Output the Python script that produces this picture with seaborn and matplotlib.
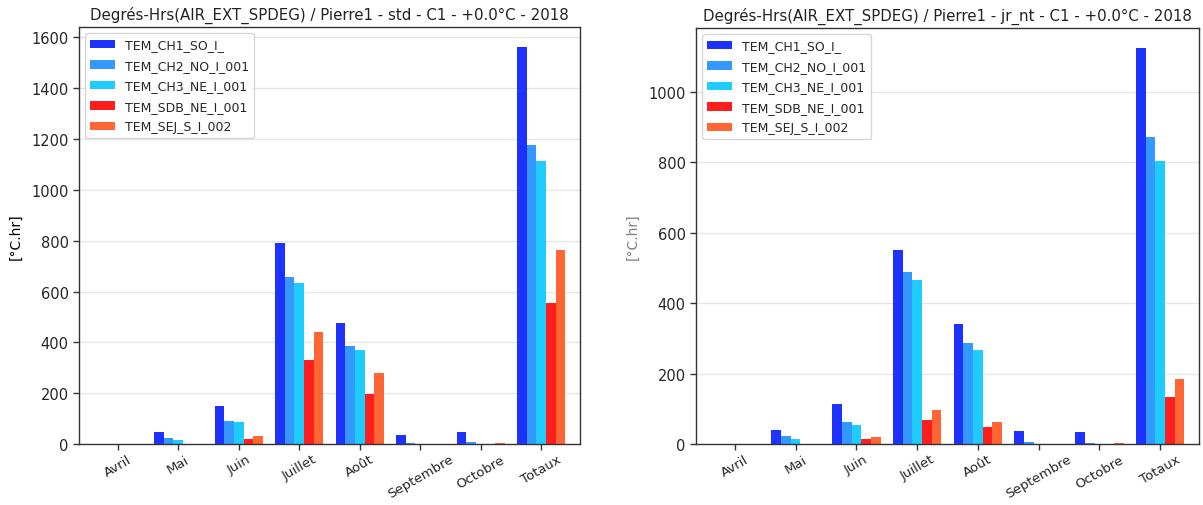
import numpy as np
import pandas as pd
import seaborn as sns
import matplotlib
matplotlib.use("Agg")
import matplotlib.pyplot as plt

months = ['Avril', 'Mai', 'Juin', 'Juillet', 'Août', 'Septembre', 'Octobre', 'Totaux']
sensors = ['TEM_CH1_SO_I_', 'TEM_CH2_NO_I_001', 'TEM_CH3_NE_I_001', 'TEM_SDB_NE_I_001', 'TEM_SEJ_S_I_002']
colors = ['#1E32FF', '#3399FF', '#1ECCFF', '#FF1E1E', '#FF6633']

# scenario "std"
std_ch1 = [0, 49, 151, 791, 477, 37, 49, 1563]
std_ch2 = [0, 22, 91, 656, 386, 4, 8, 1176]
std_ch3 = [0, 17, 87, 632, 370, 0, 0, 1113]
std_sdb = [0, 0, 20, 332, 196, 0, 0, 555]
std_sej = [0, 0, 31, 439, 279, 0, 3, 762]

# scenario "jr_nt"
jn_ch1 = [0, 41, 115, 552, 341, 37, 33, 1125]
jn_ch2 = [0, 22, 63, 489, 288, 5, 3, 872]
jn_ch3 = [0, 14, 54, 465, 267, 0, 0, 803]
jn_sdb = [0, 0, 14, 69, 47, 0, 0, 133]
jn_sej = [0, 0, 19, 96, 63, 0, 3, 185]


def to_long(series):
    rows = []
    for name, vals in zip(sensors, series):
        for m, v in zip(months, vals):
            rows.append({'mois': m, 'capteur': name, 'val': v})
    return pd.DataFrame(rows)


panels = [
    ('std', [std_ch1, std_ch2, std_ch3, std_sdb, std_sej], 'black'),
    ('jr_nt', [jn_ch1, jn_ch2, jn_ch3, jn_sdb, jn_sej], '#808080'),
]

sns.set_style('white')
plt.rcParams['font.family'] = ['DejaVu Sans']

fig = plt.figure(figsize=(12.03, 5.06), dpi=100)
W, H = 1203, 506
boxes = [(79, 28, 580, 445), (696, 29, 1199, 445)]

for (scen, series, lab_col), (x0, y0, x1, y1) in zip(panels, boxes):
    ax = fig.add_axes([x0 / W, 1 - y1 / H, (x1 - x0) / W, (y1 - y0) / H])
    df = to_long(series)
    sns.barplot(data=df, x='mois', y='val', hue='capteur', order=months,
                hue_order=sensors, palette=colors, saturation=1,
                width=0.8, linewidth=0, ax=ax)
    top = max(max(s) for s in series)
    ax.set_ylim(0, top * 1.05)
    ax.set_xlim(-0.64, 7.64)
    ax.yaxis.grid(True, color='#e6e6e6', linewidth=1)
    ax.set_axisbelow(True)
    for sp in ax.spines.values():
        sp.set_color('#333333')
        sp.set_linewidth(1)
    ax.tick_params(axis='both', which='major', length=4, width=1,
                   color='#333333', bottom=True, left=True)
    ax.tick_params(axis='y', labelsize=10.5)
    ax.tick_params(axis='x', labelsize=9.5, pad=2)
    plt.setp(ax.get_xticklabels(), rotation=30, ha='center')
    ax.set_xlabel('')
    ax.set_ylabel('[°C.hr]', color=lab_col, fontsize=10, labelpad=6)
    ax.set_title('Degrés-Hrs(AIR_EXT_SPDEG) / Pierre1 - ' + scen + ' - C1 - +0.0°C - 2018',
                 fontsize=10.8, color='#222222', pad=6)
    ax.legend(loc='upper left', fontsize=9, title=None, frameon=True,
              labelspacing=0.6)

fig.savefig('out.png', dpi=100)
